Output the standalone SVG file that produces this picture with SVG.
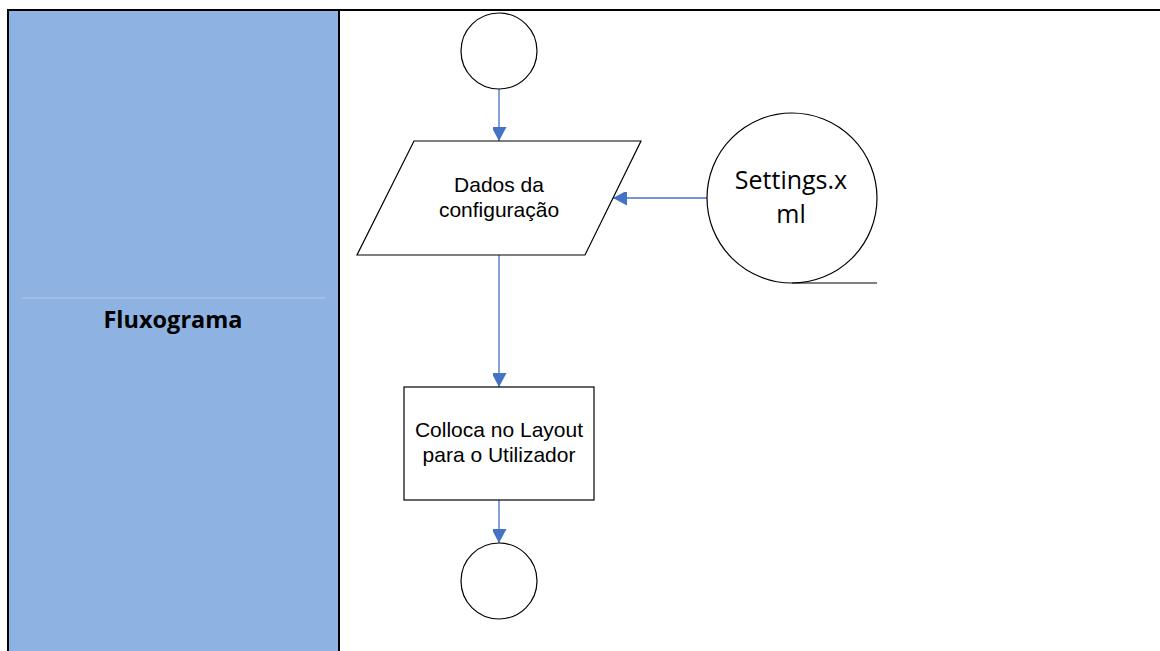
<svg xmlns="http://www.w3.org/2000/svg" width="1160" height="651" viewBox="0 0 1160 651">
<defs>
<style>
.shape{fill:#fff;stroke:#000;stroke-width:1.2}
.conn{stroke:#4472C4;stroke-width:1.3;fill:none}
.lbl{font-family:"Liberation Sans",Arial,sans-serif;font-size:21px;fill:#000;text-anchor:middle}
.big{font-family:"Open Sans","Liberation Sans",sans-serif;font-size:25px;fill:#000;text-anchor:middle}
.title{font-family:"Open Sans","Liberation Sans",sans-serif;font-size:23.5px;font-weight:bold;fill:#000;text-anchor:middle}
</style>
<marker id="ah" markerWidth="15" markerHeight="14" refX="14" refY="7.5" orient="auto" markerUnits="userSpaceOnUse">
<path d="M0,0 L14,7.5 L0,15 Z" fill="#4472C4"/>
</marker>
</defs>
<rect width="1160" height="651" fill="#fff"/>
<g id="panel">
<rect x="9" y="10" width="330" height="641" fill="#8EB2E1"/>
<line x1="22" y1="298" x2="325" y2="298" stroke="#B3CAEB" stroke-width="1"/>
<line x1="8" y1="10" x2="1160" y2="10" stroke="#000" stroke-width="2"/>
<line x1="8" y1="9" x2="8" y2="651" stroke="#000" stroke-width="2"/>
<line x1="339" y1="10" x2="339" y2="651" stroke="#000" stroke-width="2"/>
<text class="title" x="173" y="328">Fluxograma</text>
</g>
<g id="connectors">
<line class="conn" x1="499" y1="89" x2="499" y2="141" marker-end="url(#ah)"/>
<line class="conn" x1="707" y1="198" x2="613" y2="198" marker-end="url(#ah)"/>
<line class="conn" x1="499" y1="255" x2="499" y2="387" marker-end="url(#ah)"/>
<line class="conn" x1="499" y1="500" x2="499" y2="543" marker-end="url(#ah)"/>
</g>
<g id="start">
<circle class="shape" cx="499" cy="51" r="38"/>
</g>
<g id="dados">
<polygon class="shape" points="414,141 641,141 585,255 357,255"/>
<text class="lbl" x="499" y="192">Dados da</text>
<text class="lbl" x="499" y="217">configuração</text>
</g>
<g id="settings">
<circle class="shape" cx="792" cy="198" r="85"/>
<line x1="792" y1="283" x2="877" y2="283" stroke="#000" stroke-width="1.2"/>
<text class="big" x="791" y="189">Settings.x</text>
<text class="big" x="791" y="223">ml</text>
</g>
<g id="colloca">
<rect class="shape" x="404" y="387" width="190" height="113"/>
<text class="lbl" x="499" y="437">Colloca no Layout</text>
<text class="lbl" x="499" y="462">para o Utilizador</text>
</g>
<g id="end">
<circle class="shape" cx="499" cy="581" r="38"/>
</g>
</svg>
